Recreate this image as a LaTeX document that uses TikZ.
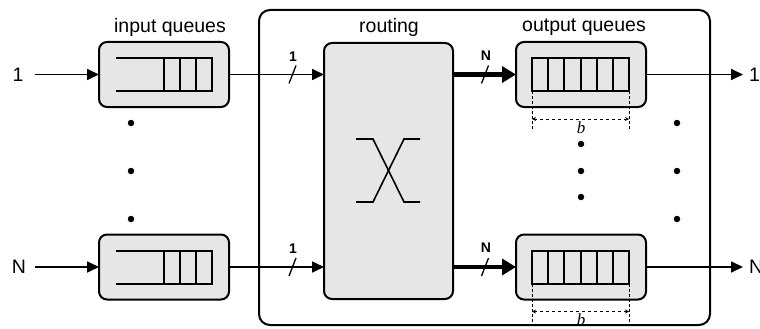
\documentclass[tikz,border=0pt]{standalone}
\usepackage{fontspec}
\setmainfont{Liberation Sans}
\newfontfamily\dimfont{Liberation Serif}
\usetikzlibrary{arrows.meta,calc}
\definecolor{boxgray}{HTML}{E6E6E6}
\begin{document}
\begin{tikzpicture}[x=1pt,y=-1pt,
  every node/.style={inner sep=0pt, outer sep=0pt},
  qbox/.style={draw, line width=2pt, fill=boxgray, rounded corners=8pt,
    minimum width=130pt, minimum height=65pt},
  rbox/.style={draw, line width=2pt, fill=boxgray, rounded corners=8pt,
    minimum width=129pt, minimum height=256pt},
  frame/.style={draw, line width=2pt, rounded corners=11pt},
  cell/.style={line width=2pt},
  lbl/.style={font=\fontsize{19.5}{22}\selectfont},
  buslbl/.style={font=\bfseries\fontsize{14}{16}\selectfont},
  dimlbl/.style={font=\dimfont\itshape\fontsize{17}{19}\selectfont},
  link/.style={line width=1.7pt, -{Triangle[length=12pt,width=11pt]}},
  bus/.style={line width=4.2pt, -{Triangle[length=14pt,width=16pt]}},
  slash/.style={line width=1.3pt},
  ext/.style={line width=0.9pt, densely dashed},
  dimline/.style={line width=0.9pt, dashed, {Stealth[length=4pt,width=4pt]}-{Stealth[length=4pt,width=4pt]}},
  dot/.style={circle, fill=black, minimum size=6.5pt}
]
\useasboundingbox (0,0) rectangle (760,329);

% switch fabric frame
\draw[frame] (259,10) rectangle (710,325);

% headings
\node[lbl] (hin)  at (170,27) {input queues};
\node[lbl] (hrt)  at (389,27) {routing};
\node[lbl] (hout) at (584,27) {output queues};

% boxes
\node[qbox] (iq1) at (164,74.5) {};
\node[qbox] (iqN) at (164,267) {};
\node[rbox] (rt)  at (388.5,171) {};
\node[qbox] (oq1) at (581,74.5) {};
\node[qbox] (oqN) at (581,267) {};

% input queue cells (open on the left)
\foreach \q in {iq1,iqN}{
  \draw[cell] ($(\q.center)+(-48,-16.5)$) -- ++(96,0) -- ++(0,33) -- ++(-96,0);
  \foreach \dx in {0,16,32}
    \draw[cell] ($(\q.center)+(\dx,-16.5)$) -- ++(0,33);
}

% output queue cells
\foreach \q in {oq1,oqN}{
  \draw[cell] ($(\q.center)+(-49,-16.5)$) rectangle ($(\q.center)+(48,16.5)$);
  \foreach \i in {1,...,5}
    \draw[cell] ($(\q.center)+(-49+\i*16.17,-16.5)$) -- ++(0,33);
  % size indicator
  \draw[ext] ($(\q.center)+(-49,16.5)$) -- ++(0,38);
  \draw[ext] ($(\q.center)+(48,16.5)$) -- ++(0,38);
  \draw[dimline] ($(\q.center)+(-49,44.5)$) -- ($(\q.center)+(48,44.5)$);
  \node[dimlbl, anchor=north] at ($(\q.center)+(0,47)$) {b};
}

% crossing symbol in the routing box
\draw[line width=1.6pt] (356,139) -- (373,139) -- (404,202) -- (420,202);
\draw[line width=1.6pt] (356,202) -- (373,202) -- (404,139) -- (420,139);

% input lines
\node[lbl] (l1) at (18,74.5) {1};
\node[lbl] (lN) at (19,267) {N};
\coordinate (s1) at (35,74.5);
\coordinate (sN) at (35,267);
\draw[link] (s1) -- (iq1.west);
\draw[link] (sN) -- (iqN.west);

% queues to routing
\draw[link] (iq1.east) -- (iq1.east -| rt.west);
\draw[link] (iqN.east) -- (iqN.east -| rt.west);
\draw[slash] (289,83.5) -- (296,65.5);
\draw[slash] (289,276) -- (296,258);
\node[buslbl] (b1) at (293,57) {1};
\node[buslbl] (b2) at (293,249) {1};

% routing to output queues
\draw[bus] (rt.east |- oq1.west) -- (oq1.west);
\draw[bus] (rt.east |- oqN.west) -- (oqN.west);
\draw[slash] (481.5,83.5) -- (488.5,65.5);
\draw[slash] (481.5,276) -- (488.5,258);
\node[buslbl] (b3) at (486,56) {N};
\node[buslbl] (b4) at (486,248) {N};

% output lines
\coordinate (t1) at (743,74.5);
\coordinate (tN) at (743,267);
\draw[link] (oq1.east) -- (t1);
\draw[link] (oqN.east) -- (tN);
\node[lbl, anchor=west] (r1) at (749,74.5) {1};
\node[lbl, anchor=west] (rN) at (749,267) {N};

% ellipsis dots
\foreach \y in {123,171,219}{
  \node[dot] at (131,\y) {};
  \node[dot] at (677,\y) {};
}
\foreach \y in {144,171,197}
  \node[dot] at (581,\y) {};
\end{tikzpicture}
\end{document}
